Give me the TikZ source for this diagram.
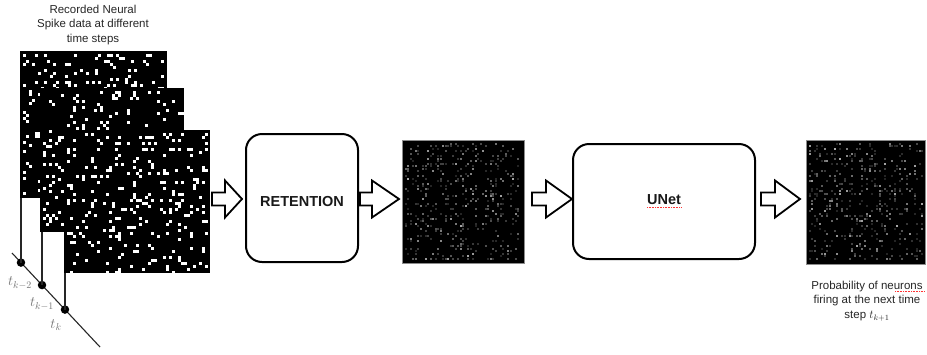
\documentclass[tikz,border=0pt]{standalone}
\usepackage{fontspec}
\setmainfont{Liberation Sans}
\usetikzlibrary{calc}
\newcommand{\spikedots}[3]{%
  \pgfmathsetseed{#3}%
  \begin{scope}[shift={(#1.north west)}]
    \foreach \i in {1,...,#2}{%
      \pgfmathsetmacro{\rx}{int(1+46.99*rnd)}%
      \pgfmathsetmacro{\ry}{int(1+46.99*rnd)}%
      \fill[white] (\rx*3,\ry*3) rectangle ++(2.9,2.9);
    }
  \end{scope}}
\newcommand{\probdots}[3]{%
  \pgfmathsetseed{#3}%
  \begin{scope}[shift={(#1.north west)}]
    \foreach \i in {1,...,#2}{%
      \pgfmathsetmacro{\rx}{int(1+45.99*rnd)}%
      \pgfmathsetmacro{\ry}{int(1+46.99*rnd)}%
      \pgfmathsetmacro{\rg}{int(14+60*rnd*rnd)}%
      \fill[white!\rg!black] (\rx*2.5,\ry*2.5) rectangle ++(2.3,2.3);
    }
  \end{scope}}
\newcommand{\blockarr}[5]{% from, to, gap from, gap to, head length
  \draw[barrow] let \p1=(#1.east), \p2=(#2.west), \p3=(axis) in
    (\x1+#3pt,\y3+6.5pt) -- (\x2-#4pt-#5pt,\y3+6.5pt) -- (\x2-#4pt-#5pt,\y3+18.5pt)
    -- (\x2-#4pt,\y3) -- (\x2-#4pt-#5pt,\y3-18.5pt) -- (\x2-#4pt-#5pt,\y3-6.5pt)
    -- (\x1+#3pt,\y3-6.5pt) -- cycle;}
\begin{document}
\begin{tikzpicture}[x=1pt,y=-1pt,
  spikeimg/.style={fill=black, inner sep=0pt, outer sep=0pt, anchor=north west},
  probimg/.style={fill=black, draw=black!45, line width=0.8pt, inner sep=0pt, outer sep=0pt, anchor=north west},
  procbox/.style={draw=black, line width=2pt, rounded corners=16pt, inner sep=0pt, outer sep=0pt, anchor=north west},
  boxlabel/.style={font=\fontsize{14.5}{16}\selectfont\bfseries, text=black!90},
  barrow/.style={draw=black, line width=1.8pt, fill=white, line join=miter},
  caption/.style={align=center, font=\fontsize{11.5}{14.8}\selectfont, text=black!85},
  tdot/.style={circle, fill=black, inner sep=0pt, minimum size=8.5pt},
  tlab/.style={text=black!55, font=\fontsize{14}{16}\selectfont},
  timeline/.style={draw=black!85, line width=1.1pt},
  spell/.style={draw=red!80, line width=0.6pt, dash pattern=on 0.8pt off 0.8pt}
]
\useasboundingbox (0,0) rectangle (927,354);
\coordinate (axis) at (0,199);

% caption top
\node[caption] (cap1) at (93,25) {Recorded Neural\\Spike data at different\\time steps};

% stacked spike images
\node[spikeimg, minimum width=147pt, minimum height=147pt] (s1) at (20,51) {};
\spikedots{s1}{250}{11}
\node[spikeimg, minimum width=144pt, minimum height=144pt] (s2) at (40,88) {};
\spikedots{s2}{250}{23}
\node[spikeimg, minimum width=146pt, minimum height=143pt] (s3) at (64,130) {};
\spikedots{s3}{260}{37}

% timeline
\coordinate (ls) at (12,253);
\coordinate (le) at (100,347);
\draw[timeline] (ls) -- (le);
\node[tdot] (d1) at ($(ls)!0.102!(le)$) {};
\node[tdot] (d2) at ($(ls)!0.341!(le)$) {};
\node[tdot] (d3) at ($(ls)!0.602!(le)$) {};
\draw[timeline] (d1.center) -- (d1.center |- s1.south);
\draw[timeline] (d2.center) -- (d2.center |- s2.south);
\draw[timeline] (d3.center) -- (d3.center |- s3.south);
\node[tlab] (l1) at (20,283) {$t_{k-2}$};
\node[tlab] (l2) at (42,304) {$t_{k-1}$};
\node[tlab] (l3) at (56,325) {$t_{k}$};

% processing
\node[procbox, minimum width=112pt, minimum height=128pt] (ret) at (246,134) {};
\node[boxlabel] (retl) at ($(ret.center)+(0,4)$) {RETENTION};
\node[probimg, minimum width=122pt, minimum height=123pt] (p1) at (402,140) {};
\probdots{p1}{430}{51}
\node[procbox, minimum width=182pt, minimum height=115pt] (unet) at (573,144) {};
\node[boxlabel] (unetl) at ($(unet.center)+(0,-2)$) {UNet};
\node[probimg, minimum width=119pt, minimum height=124pt] (p2) at (806,140) {};
\probdots{p2}{430}{67}

% block arrows
\blockarr{s3}{ret}{2}{4}{17}
\blockarr{ret}{p1}{2}{3}{27}
\blockarr{p1}{unet}{8}{1}{26}
\blockarr{unet}{p2}{6}{6}{25}

% caption right
\node[caption] (cap2) at (867,301) {Probability of neurons\\firing at the next time\\step $t_{k+1}$};

% spell-check underlines
\draw[spell] (647,207) -- (682,207);
\draw[spell] (895,291) -- (924,291);
\end{tikzpicture}
\end{document}
